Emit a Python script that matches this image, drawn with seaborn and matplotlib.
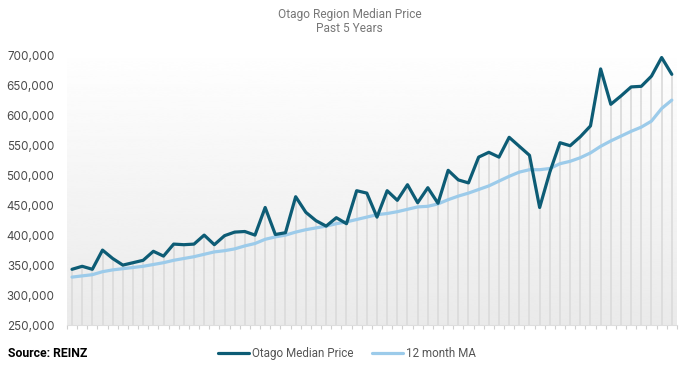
import numpy as np
import pandas as pd
import matplotlib
matplotlib.use("Agg")
import matplotlib.pyplot as plt
import seaborn as sns

# Données (60 mois)
median_price = [
    343000, 348000, 343000, 375000, 361000, 350000, 354000, 358000, 373000, 365000,
    385000, 384000, 385000, 400000, 384000, 399000, 405000, 406000, 400000, 446000,
    401000, 404000, 464000, 438000, 424000, 415000, 429000, 419000, 474000, 470000,
    430000, 474000, 458000, 484000, 454000, 479000, 453000, 508000, 492000, 487000,
    530000, 538000, 530000, 563000, 548000, 533000, 446000, 505000, 554000, 549000,
    564000, 582000, 677000, 618000, 632000, 647000, 648000, 665000, 696000, 668000,
]
ma_12 = [
    330000, 332000, 334000, 339000, 342000, 344000, 346000, 348000, 351000, 354000,
    358000, 361000, 364000, 368000, 372000, 374000, 377000, 382000, 386000, 393000,
    397000, 400000, 405000, 409000, 412000, 415000, 419000, 422000, 426000, 430000,
    434000, 436000, 439000, 443000, 447000, 448000, 452000, 459000, 465000, 470000,
    476000, 482000, 490000, 498000, 505000, 509000, 509000, 511000, 519000, 523000,
    529000, 537000, 548000, 557000, 565000, 573000, 580000, 590000, 611000, 625000,
]
y_ticks = [250000, 300000, 350000, 400000, 450000, 500000, 550000, 600000, 650000, 700000]
series_names = ["Otago Median Price", "12 month MA"]

DARK = "#0d5c75"
LIGHT = "#9ccbea"
Y_MIN, Y_MAX = 250000, 715000

sns.set_theme(style="white")
plt.rcParams["font.family"] = ["Inter", "DejaVu Sans"]

months = np.arange(len(median_price))
df = pd.DataFrame({
    "month": np.concatenate([months, months]),
    "price": median_price + ma_12,
    "serie": [series_names[0]] * len(months) + [series_names[1]] * len(months),
})

fig = plt.figure(figsize=(6.9, 3.69), dpi=100)
ax = fig.add_axes([0.097, 0.119, 0.884, 0.756])

# fond dégradé blanc -> gris clair
grad = np.linspace(1.0, 0.94, 256) ** 1.4
ax.imshow(grad.reshape(-1, 1), extent=(-0.5, len(months) - 0.5, Y_MIN, Y_MAX), aspect="auto",
          cmap="gray", vmin=0, vmax=1, zorder=0, interpolation="bicubic")

# lignes verticales jusqu'au prix médian
ax.vlines(months, Y_MIN, median_price, color="#dcdcdc", lw=1.3, zorder=1)

sns.lineplot(data=df, x="month", y="price", hue="serie",
             palette={series_names[0]: DARK, series_names[1]: LIGHT},
             hue_order=series_names[::-1], lw=2.3, ax=ax, legend=False, zorder=3)

ax.set_xlim(-0.5, len(months) - 0.5)
ax.set_ylim(Y_MIN, Y_MAX)
ax.set_yticks(y_ticks)
ax.set_yticklabels([f"{v:,}" for v in y_ticks], fontsize=8.4, color="#4a4a4a")
ax.set_xticks(np.arange(-0.5, len(months), 1.0))
ax.set_xticklabels([])
ax.tick_params(axis="x", which="both", bottom=True, length=3, width=0.8,
               color="#cfcfcf", pad=0)
ax.tick_params(axis="y", length=0, pad=9)
ax.set_xlabel("")
ax.set_ylabel("")
for side in ["top", "right", "left"]:
    ax.spines[side].set_visible(False)
ax.spines["bottom"].set_color("#dedede")
ax.spines["bottom"].set_linewidth(0.8)

fig.text(0.507, 0.942, "Otago Region Median Price\nPast 5 Years", ha="center", va="center",
         fontsize=8.6, color="#777777", linespacing=1.1, family=["Roboto", "DejaVu Sans"])
fig.text(0.012, 0.042, "Source: REINZ", ha="left", va="center", fontsize=8.8,
         fontweight="bold", color="black", family=["Roboto", "DejaVu Sans"])

handles = [plt.Line2D([], [], color=DARK, lw=2.3),
           plt.Line2D([], [], color=LIGHT, lw=2.3)]
fig.legend(handles, series_names, loc="center", bbox_to_anchor=(0.503, 0.042), ncol=2,
           frameon=False, handlelength=2.6, handletextpad=0.3, columnspacing=1.6,
           prop={"family": "Roboto", "size": 8.4}, labelcolor="#555555")

fig.savefig("out.png", dpi=100)
